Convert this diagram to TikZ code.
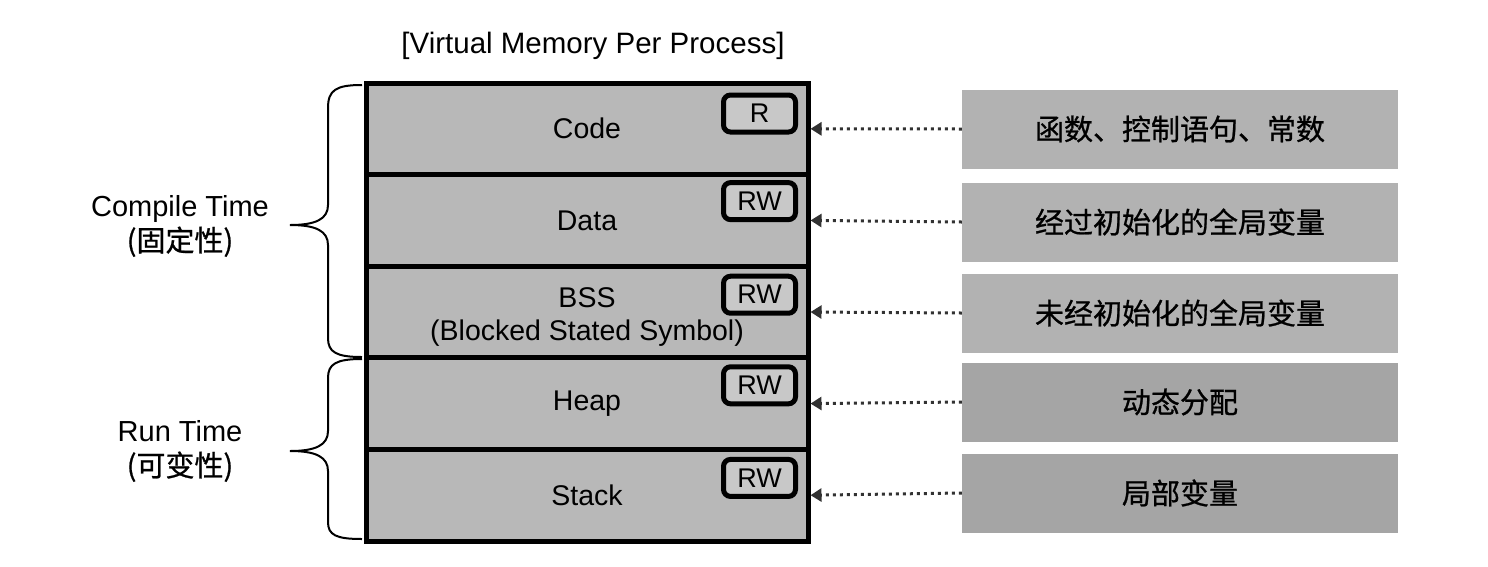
\documentclass[tikz,border=0pt]{standalone}
\usepackage{fontspec}
\setmainfont{Liberation Sans}
\newfontfamily\cjk[FakeBold=0.8]{Noto Sans CJK SC}
\usetikzlibrary{calc,arrows.meta}
\definecolor{memfill}{RGB}{184,184,184}
\definecolor{descA}{RGB}{178,178,178}
\definecolor{descB}{RGB}{165,165,165}
\definecolor{badgefill}{RGB}{200,200,200}
\definecolor{dotcol}{RGB}{50,50,50}
\tikzset{
  memrow/.style={draw=black, line width=5pt, fill=memfill, minimum width=442pt, minimum height=91.6pt, inner sep=0pt, font=\fontsize{28.5}{33}\selectfont, align=center},
  badge/.style={draw=black, line width=5pt, rounded corners=7pt, fill=badgefill, minimum width=72pt, minimum height=37pt, inner sep=0pt, font=\fontsize{27}{30}\selectfont},
  descbox/.style={fill=#1, minimum width=436pt, minimum height=79pt, inner sep=0pt, font=\cjk\fontsize{29}{32}\selectfont},
  sidelabel/.style={align=center, font=\fontsize{29}{35}\selectfont},
  dotarrow/.style={draw=dotcol, line width=3pt, dash pattern=on 3pt off 4pt, -{Triangle[length=11pt,width=13pt]}},
  bracestyle/.style={draw=black, line width=2pt}
}
\begin{document}
\begin{tikzpicture}[x=1pt,y=-1pt]
\useasboundingbox (0,0) rectangle (1488,566);
\node[font=\fontsize{29.5}{32}\selectfont] (title) at (593,46) {[Virtual Memory Per Process]};

\node[memrow] (code)  at (587,128.8) {Code};
\node[memrow] (data)  at (587,220.4) {Data};
\node[memrow] (bss)   at (587,312.0) {};
\node[align=center, font=\fontsize{28.5}{33}\selectfont] (bsstext) at ($(bss.center)+(0,5)$) {BSS\\(Blocked Stated Symbol)};
\node[memrow] (heap)  at (587,403.6) {Heap};
\node[memrow] (stack) at (587,495.2) {Stack};

\node[badge] (bcode)  at ($(code.north east)+(-51,33)$) {R};
\node[badge] (bdata)  at ($(data.north east)+(-51,29)$) {RW};
\node[badge] (bbss)   at ($(bss.north east)+(-51,31)$) {RW};
\node[badge] (bheap)  at ($(heap.north east)+(-51,30)$) {RW};
\node[badge] (bstack) at ($(stack.north east)+(-51,31)$) {RW};

\node[descbox=descA] (dcode)  at (1180,129) {函数、控制语句、常数};
\node[descbox=descA] (ddata)  at (1180,222) {经过初始化的全局变量};
\node[descbox=descA] (dbss)   at (1180,313) {未经初始化的全局变量};
\node[descbox=descB] (dheap)  at (1180,402) {动态分配};
\node[descbox=descB] (dstack) at (1180,493) {局部变量};

\draw[dotarrow] (dcode.west)  -- (code.east);
\draw[dotarrow] (ddata.west)  -- (data.east);
\draw[dotarrow] (dbss.west)   -- (bss.east);
\draw[dotarrow] (dheap.west)  -- (heap.east);
\draw[dotarrow] (dstack.west) -- (stack.east);

\draw[bracestyle] (362,85) .. controls (336,85) and (328,90) .. (328,108) -- (328,205)
  .. controls (328,219) and (316,225) .. (290,225)
  .. controls (316,225) and (328,231) .. (328,245) -- (328,338)
  .. controls (328,352) and (336,357) .. (362,357);
\draw[bracestyle] (362,359) .. controls (336,359) and (328,364) .. (328,378) -- (328,431)
  .. controls (328,445) and (316,451) .. (290,451)
  .. controls (316,451) and (328,457) .. (328,471) -- (328,522)
  .. controls (328,535) and (336,539) .. (362,539);

\node[sidelabel] (compile) at (180,226) {Compile Time\\{\cjk (固定性)}};
\node[sidelabel] (run) at (180,451) {Run Time\\{\cjk (可变性)}};
\end{tikzpicture}
\end{document}
